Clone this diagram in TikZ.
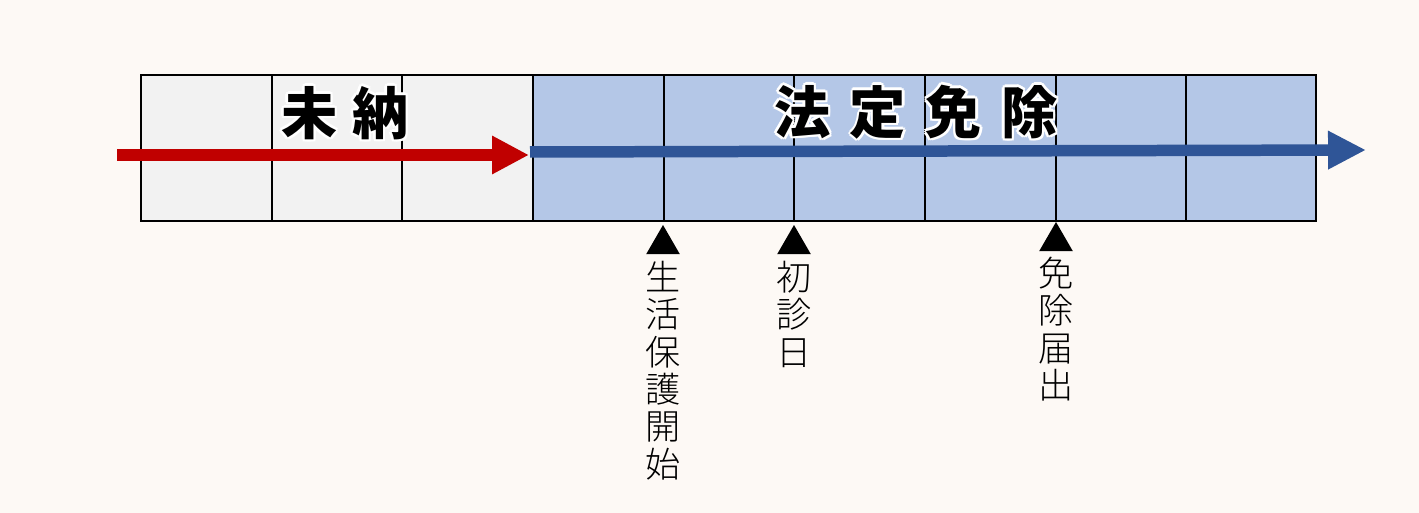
\documentclass[tikz,border=0pt]{standalone}
\usepackage{fontspec}
\newfontfamily\jp{Noto Sans CJK JP}
\newfontfamily\jplight{Noto Sans CJK JP Light}
\usetikzlibrary{arrows.meta}
\usetikzlibrary{calc}
\usetikzlibrary{positioning}
\usetikzlibrary{shapes.geometric}
\definecolor{cream}{RGB}{253,249,245}
\definecolor{cellgray}{RGB}{242,242,242}
\definecolor{cellblue}{RGB}{180,199,231}
\definecolor{darkred}{RGB}{192,0,0}
\definecolor{navyblue}{RGB}{47,85,151}

\begin{document}
\begin{tikzpicture}[line join=miter,x=0.02cm,y=-0.02cm,
  title/.style={font=\jp\bfseries\fontsize{32}{32}\selectfont,inner sep=0pt},
  pointer/.style={regular polygon,regular polygon sides=3,fill=black,inner sep=0pt,minimum size=0.78cm},
  vlabel/.style={font=\jplight\fontsize{20}{21.3}\selectfont,align=center,inner sep=0pt}]
\fill[cream] (0,0) rectangle (1419,513);
% grid
\fill[cellgray] (141,75) rectangle (533,221);
\fill[cellblue] (533,75) rectangle (1316,221);
\foreach \x in {272,402,533,664,794,925,1056,1186}
\draw[line width=1.1pt] (\x,75) -- (\x,221);
\draw[line width=1.1pt] (141,75) rectangle (1316,221);
% titles
\coordinate (unpaidpos) at (345,113);
\coordinate (exemptpos) at (916,112);
\foreach \a in {0,45,...,315}
{\node[title,text=white] at ($(unpaidpos)+(\a:2.5)$) {未\hspace{0.3cm}納};
\node[title,text=white] at ($(exemptpos)+(\a:2.5)$) {法\hspace{0.39cm}定\hspace{0.39cm}免\hspace{0.39cm}除};}
\node[title] (unpaid) at (unpaidpos) {未\hspace{0.3cm}納};
\node[title] (exempt) at (exemptpos) {法\hspace{0.39cm}定\hspace{0.39cm}免\hspace{0.39cm}除};
% arrows
\coordinate (redstart) at (117,155);
\coordinate (redend) at (529,155);
\coordinate (bluestart) at (530,152);
\coordinate (blueend) at (1366,150);
\draw[darkred,line width=0.24cm,-{Triangle[length=0.74cm,width=0.72cm]}] (redstart) -- (redend);
\draw[navyblue,line width=0.23cm,-{Triangle[length=0.76cm,width=0.72cm]}] (bluestart) -- (blueend);
% events
\node[pointer] (welfare) at (663,244.5) {};
\node[pointer] (firstvisit) at (794,244.5) {};
\node[pointer] (notice) at (1056,241.5) {};
\node[vlabel,below=0.12cm of welfare] (welfaretext) {生\\活\\保\\護\\開\\始};
\node[vlabel,below=0.12cm of firstvisit] (firstvisittext) {初\\診\\日};
\node[vlabel,below=0.1cm of notice] (noticetext) {免\\除\\届\\出};
\end{tikzpicture}
\end{document}
